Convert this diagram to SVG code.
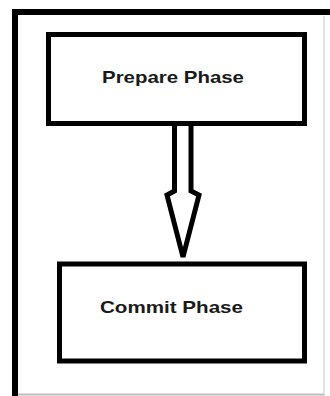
<svg xmlns="http://www.w3.org/2000/svg" width="330" height="396" viewBox="0 0 330 396">
<style>
.frame{fill:none;stroke:#000;stroke-width:6}
.box{fill:#fff;stroke:#000;stroke-width:5}
.lbl{font-family:"Liberation Sans",Arial,sans-serif;font-weight:bold;font-size:17px;fill:#1a1a1a}
.arrow{fill:#fff;stroke:#000;stroke-width:5;stroke-linejoin:miter}
</style>
<rect width="330" height="396" fill="#fff"/>
<g id="frame">
<path class="frame" d="M15,396 V12 H330"/>
<line x1="324" y1="16" x2="324" y2="396" stroke="#d8d8d8" stroke-width="1.5"/>
<line x1="18" y1="394.5" x2="324" y2="394.5" stroke="#bdbdbd" stroke-width="2"/>
</g>
<g id="connectors">
<path class="arrow" d="M174.5,124 V191 L167,195 L183,257 L199,195 L191,191 V124"/>
</g>
<g id="prepare">
<rect class="box" x="48.5" y="34.5" width="256" height="89"/>
<text class="lbl" x="102" y="83" textLength="142" lengthAdjust="spacingAndGlyphs">Prepare Phase</text>
</g>
<g id="commit">
<rect class="box" x="59.5" y="264" width="245" height="97"/>
<text class="lbl" x="100" y="313" textLength="143" lengthAdjust="spacingAndGlyphs">Commit Phase</text>
</g>
</svg>
